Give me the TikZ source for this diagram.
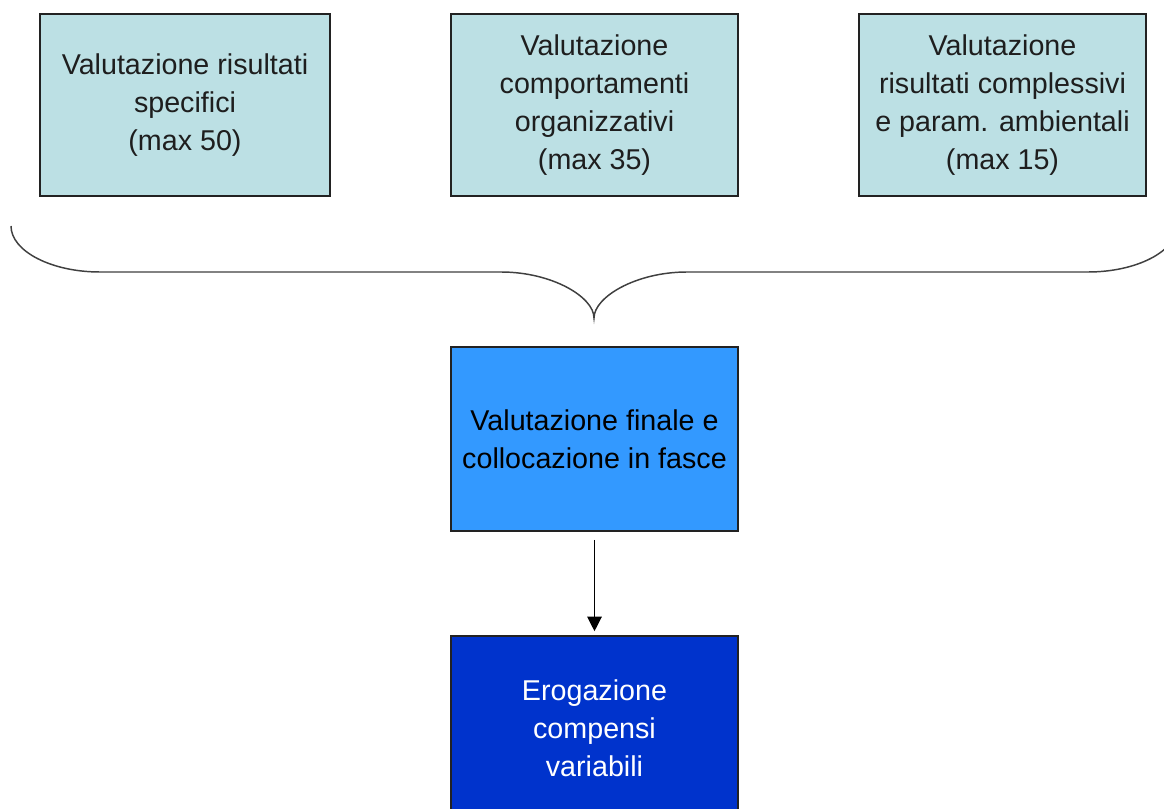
\documentclass[tikz,border=0pt]{standalone}
\usepackage{fontspec}
\setmainfont{Liberation Sans}
\usetikzlibrary{arrows.meta}
\definecolor{boxcyan}{RGB}{188,224,228}
\definecolor{boxblue}{RGB}{51,153,255}
\definecolor{boxdark}{RGB}{0,51,204}
\definecolor{edgecol}{RGB}{34,34,34}
\definecolor{bracecol}{RGB}{64,64,64}
\definecolor{txtcol}{RGB}{30,30,30}
\begin{document}
\begin{tikzpicture}[x=0.75pt,y=-0.75pt,
  box/.style={draw=edgecol, line width=1.2pt, inner sep=2pt, align=center,
    font=\fontsize{21.5}{28.5}\selectfont},
  topbox/.style={box, fill=boxcyan, text=txtcol, minimum height=136.5pt},
  finbox/.style={box, fill=boxblue, text=black, minimum width=215.25pt, minimum height=138pt},
  erobox/.style={box, fill=boxdark, text=white, minimum width=215.25pt, minimum height=138pt},
  braceline/.style={draw=bracecol, line width=1.1pt},
  arrowline/.style={draw=black, line width=0.9pt, -{Triangle[length=11pt,width=11pt]}, shorten <=6pt, shorten >=3pt}
]
\clip (0,0) rectangle (1164,809);
\fill[white] (0,0) rectangle (1164,809);
\node[topbox, minimum width=217.5pt] (b1) at (185,105) {Valutazione risultati\\specifici\\(max 50)};
\node[topbox, minimum width=215.25pt] (b2) at (594.5,105) {Valutazione\\comportamenti\\organizzativi\\(max 35)};
\node[topbox, minimum width=215.25pt] (b3) at (1002.5,105) {Valutazione\\risultati complessivi\\e param. ambientali\\(max 15)};
\draw[braceline] (11,226) .. controls (11,251) and (51,272) .. (100,272) -- (501,272)
  .. controls (552,272) and (594,297) .. (594,318)
  .. controls (594,297) and (636,272) .. (687,272) -- (1088,272)
  .. controls (1137,272) and (1177,251) .. (1177,226);
\node[finbox] (fin) at (594.5,439) {Valutazione finale e\\collocazione in fasce};
\node[erobox] (ero) at (594.5,728) {Erogazione\\compensi\\variabili};
\draw[arrowline] (fin.south) -- (ero.north);
\end{tikzpicture}
\end{document}
